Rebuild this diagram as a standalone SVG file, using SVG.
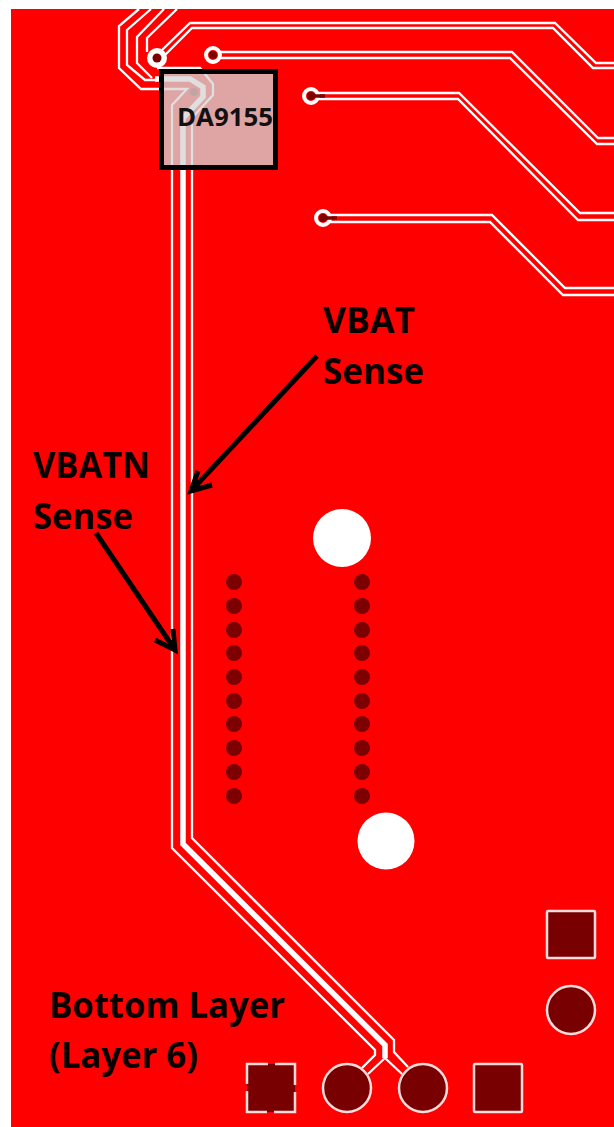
<svg xmlns="http://www.w3.org/2000/svg" width="614" height="1127" viewBox="0 0 614 1127">
<defs><filter id="soft" x="-5%" y="-5%" width="110%" height="110%"><feGaussianBlur stdDeviation="0.45"/></filter></defs>
<style>
.t{fill:none;stroke:#fff;stroke-width:2.300;stroke-linejoin:miter}
.th{fill:none;stroke:#fff;stroke-width:5.500}
.d{fill:#7c0000}
.r{fill:#f00;stroke:#fff;stroke-width:4}
.s{fill:none;stroke:#7c0000;stroke-width:3.500}
.p{fill:#780000;stroke:#f4dcdc;stroke-width:2.500}
.l{font-family:"Open Sans","Liberation Sans",sans-serif;font-weight:700;font-size:35px;fill:#0a0000}
.a{fill:none;stroke:#000;stroke-width:5}
</style>
<rect width="614" height="1127" fill="#fff"/>
<rect x="11" y="9" width="603" height="1118" fill="#f00"/>
<g id="connectors" filter="url(#soft)">
<path class="t" d="M139 9L119 26V68L141 89H187L172 105V848L375 1050V1055L362 1068"/>
<path class="t" d="M151 9L127 30V65L145 80H165"/>
<path class="t" d="M164 9L137 37V63L152 78"/>
<path class="t" d="M177 9L147 38V52"/>
<path class="t" d="M614 63H596L555 23H190L160 52"/>
<path class="t" d="M614 68H593L553 28H192L163 57"/>
<path class="t" d="M157 68H200L213 84V95L192 118V838L394 1040V1052L408 1067"/>
<path class="th" d="M155 79H190L203 87V97L183 118V844L385 1045V1058"/>
<path class="t" d="M385 1058L368 1074M385 1058L402 1074"/>
<path class="t" d="M213 52H512L598 138H614M213 58H510L597 144H614"/>
<path class="t" d="M311 93H459L580 213H614M311 99H458L578 220H614"/>
<path class="t" d="M323 215H492L565 288H614M323 222H490L563 295H614"/>
<circle cx="157" cy="58" r="10" fill="#fff"/>
</g>
<g id="via1"><circle cx="157" cy="58" r="4.500" class="d"/></g>
<g id="via2"><circle class="r" cx="213" cy="55" r="7"/><circle cx="213" cy="55" r="4" class="d"/></g>
<g id="via3"><circle class="r" cx="311" cy="96" r="7"/><circle cx="311" cy="96" r="4" class="d"/><path class="s" d="M311 96H325"/></g>
<g id="via4"><circle class="r" cx="323" cy="218" r="7"/><circle cx="323" cy="218" r="4" class="d"/><path class="s" d="M323 218H337"/></g>
<g id="via5"><circle cx="194" cy="92" r="4" class="d"/></g>
<g id="hole1"><circle cx="342" cy="538" r="29" fill="#fff"/></g>
<g id="hole2"><circle cx="386" cy="841" r="28.500" fill="#fff"/></g>
<g id="dots" class="d">
<circle cx="234" cy="582" r="8"/><circle cx="234" cy="606" r="8"/><circle cx="234" cy="630" r="8"/><circle cx="234" cy="653" r="8"/><circle cx="234" cy="677" r="8"/><circle cx="234" cy="701" r="8"/><circle cx="234" cy="724" r="8"/><circle cx="234" cy="748" r="8"/><circle cx="234" cy="772" r="8"/><circle cx="234" cy="796" r="8"/>
<circle cx="362" cy="582" r="8"/><circle cx="362" cy="606" r="8"/><circle cx="362" cy="630" r="8"/><circle cx="362" cy="653" r="8"/><circle cx="362" cy="677" r="8"/><circle cx="362" cy="701" r="8"/><circle cx="362" cy="724" r="8"/><circle cx="362" cy="748" r="8"/><circle cx="362" cy="772" r="8"/><circle cx="362" cy="796" r="8"/>
</g>
<g id="pad1"><rect class="p" x="547" y="911" width="48" height="47" rx="1"/></g>
<g id="pad2"><circle class="p" cx="571" cy="1010" r="24"/></g>
<g id="pad3"><rect x="247" y="1064" width="48" height="48" fill="#780000"/><rect x="247" y="1064" width="48" height="48" fill="none" stroke="#f4dcdc" stroke-width="2.500" stroke-dasharray="21 7 41 7 41 7 41 7 20"/></g>
<g id="pad4"><circle class="p" cx="347" cy="1088" r="24"/></g>
<g id="pad5"><circle class="p" cx="423" cy="1088" r="24"/></g>
<g id="pad6"><rect class="p" x="474" y="1064" width="48" height="48" rx="1"/></g>
<g id="da9155">
<rect x="161.500" y="71.500" width="114" height="96" fill="#d6d6d6" fill-opacity=".77" stroke="#000" stroke-width="5"/>
<text x="177" y="125.500" font-family="'Open Sans','Liberation Sans',sans-serif" font-weight="700" font-size="25.500" fill="#111" textLength="96" lengthAdjust="spacingAndGlyphs">DA9155</text>
</g>
<g id="vbat-arrow"><path class="a" d="M317 356L191 491M198 471L191 491L212 485"/></g>
<g id="vbatn-arrow"><path class="a" d="M96 533L175 650M173 629L175 650L155 640"/></g>
<text class="l" x="323" y="333" textLength="92" lengthAdjust="spacingAndGlyphs">VBAT</text>
<text class="l" x="323" y="384" textLength="101" lengthAdjust="spacingAndGlyphs">Sense</text>
<text class="l" x="33" y="478" textLength="117" lengthAdjust="spacingAndGlyphs">VBATN</text>
<text class="l" x="33" y="529" textLength="100" lengthAdjust="spacingAndGlyphs">Sense</text>
<text class="l" x="49" y="1018" textLength="236" lengthAdjust="spacingAndGlyphs">Bottom Layer</text>
<text class="l" x="49" y="1068" textLength="149" lengthAdjust="spacingAndGlyphs">(Layer 6)</text>
</svg>
